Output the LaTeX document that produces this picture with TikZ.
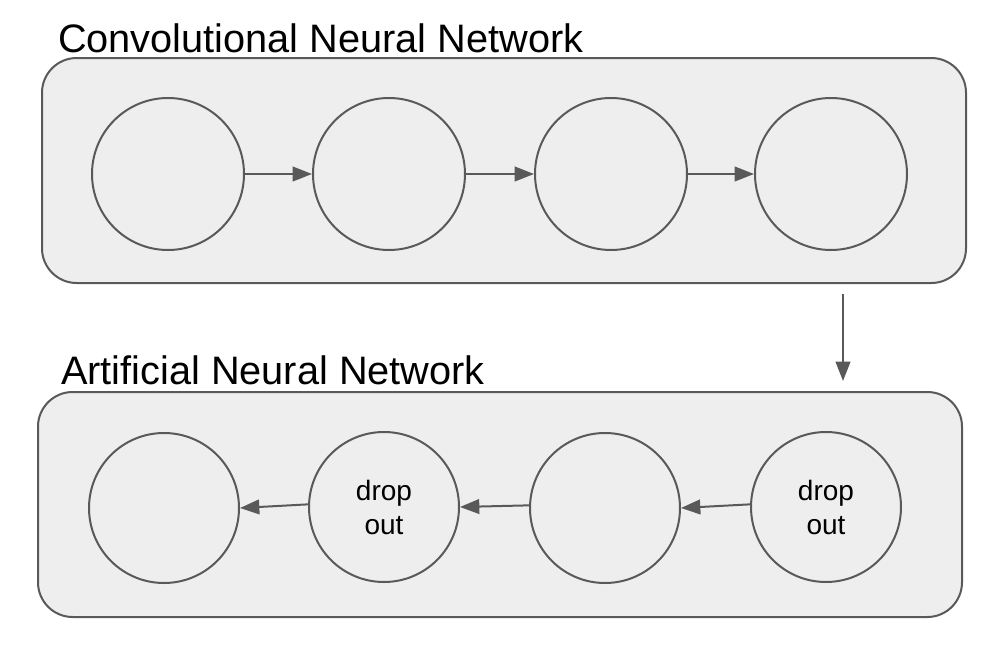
\documentclass[tikz,border=0pt]{standalone}
\usepackage{fontspec}
\setmainfont{Liberation Sans}
\usetikzlibrary{arrows.meta}

\tikzset{every picture/.style={line width=1.5pt}}
\tikzset{
  panel/.style={draw={rgb, 255:red, 89; green, 89; blue, 89 }, fill={rgb, 255:red, 238; green, 238; blue, 238 }, rounded corners=26pt, inner sep=0pt, minimum width=693pt, minimum height=168.75pt},
  unit/.style={circle, draw={rgb, 255:red, 89; green, 89; blue, 89 }, inner sep=0pt, align=center, font=\fontsize{21}{25.5}\selectfont},
  flow/.style={draw={rgb, 255:red, 89; green, 89; blue, 89 }, -{Triangle[length=14.5pt,width=11pt]}},
  heading/.style={anchor=base west, inner sep=0pt, font=\fontsize{29.8}{36}\selectfont}
}

\begin{document}
\begin{tikzpicture}[x=0.75pt,y=0.75pt,yscale=-1,xscale=1]
\useasboundingbox (0,0) rectangle (1004,650);

%Shape: Rounded Rect [id:cnn]
\node [panel] (cnn) at (504,170.5) {};
%Shape: Rounded Rect [id:ann]
\node [panel] (ann) at (500,504.5) {};

% Text Node
\node [heading] (cnn title) at (57,52) {Convolutional Neural Network};
% Text Node
\node [heading] (ann title) at (60,384) {Artificial Neural Network};

%Shape: Circle [id:c1..c4]
\node [unit, minimum size=114pt] (c1) at (168,174) {};
\node [unit, minimum size=114pt] (c2) at (389,174) {};
\node [unit, minimum size=114pt] (c3) at (611,174) {};
\node [unit, minimum size=114pt] (c4) at (831,174) {};

%Shape: Circle [id:a1..a4]
\node [unit, minimum size=112.5pt] (a1) at (164,508) {};
\node [unit, minimum size=112.5pt] (a2) at (384,507) {drop\\out};
\node [unit, minimum size=112.5pt] (a3) at (605,508) {};
\node [unit, minimum size=112.5pt] (a4) at (826,507) {drop\\out};

%Straight Lines [id:forward]
\draw [flow] (c1) -- (c2);
\draw [flow] (c2) -- (c3);
\draw [flow] (c3) -- (c4);

%Straight Lines [id:feed]
\coordinate (feed top) at (843,294);
\coordinate (feed tip) at (843,381);
\draw [flow] (feed top) -- (feed tip);

%Straight Lines [id:backward]
\draw [flow] (a4.178) -- (a3.east);
\draw [flow] (a3.178) -- (a2.east);
\draw [flow] (a2.178) -- (a1.east);

\end{tikzpicture}
\end{document}
